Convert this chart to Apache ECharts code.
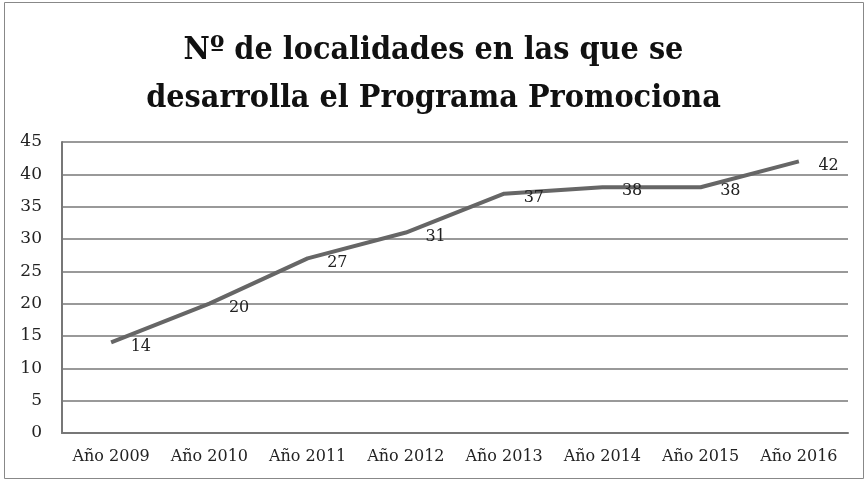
<!DOCTYPE html>
<html><head><meta charset="utf-8">
<script src="https://cdn.jsdelivr.net/npm/echarts@6/dist/echarts.min.js"></script>
<style>html,body{margin:0;padding:0;background:#fff}#c{width:867px;height:480px}</style>
</head><body><div id="c"></div>
<script>
const categories = ['Año 2009','Año 2010','Año 2011','Año 2012','Año 2013','Año 2014','Año 2015','Año 2016'];
const values = [14, 20, 27, 31, 37, 38, 38, 42];
const yTicks = {min: 0, max: 45, interval: 5};
const titleText = 'Nº de localidades en las que se\ndesarrolla el Programa Promociona';

const chart = echarts.init(document.getElementById('c'), null, {renderer: 'canvas'});
const font = 'DejaVu Serif, Liberation Serif, serif';
const tfont = 'DejaVu Serif Condensed, DejaVu Serif, serif';
chart.setOption({
  animation: false,
  backgroundColor: '#fff',
  graphic: [{type: 'rect', shape: {x: 4.5, y: 2.5, width: 859, height: 476}, style: {fill: 'none', stroke: '#888', lineWidth: 1}, silent: true}],
  title: {
    text: titleText, left: 'center', top: 22, padding: [5, 5, 5, 28],
    textStyle: {fontFamily: tfont, fontWeight: 'bold', fontSize: 32, lineHeight: 48, color: '#111'}
  },
  grid: {left: 62, right: 19, top: 142, bottom: 47, containLabel: false},
  xAxis: {
    type: 'category', data: categories, boundaryGap: true,
    axisLine: {lineStyle: {color: '#777', width: 2}},
    axisTick: {show: false},
    axisLabel: {interval: 0, fontFamily: font, fontSize: 16, color: '#222', margin: 16}
  },
  yAxis: {
    type: 'value', min: yTicks.min, max: yTicks.max, interval: yTicks.interval,
    axisLine: {show: true, lineStyle: {color: '#777', width: 2}},
    axisTick: {show: false},
    splitLine: {lineStyle: {color: '#777', width: 1.5}},
    axisLabel: {fontFamily: font, fontSize: 17, color: '#222', margin: 20, align: 'right'}
  },
  series: [{
    type: 'line', data: values, symbol: 'circle', symbolSize: 1, showSymbol: true,
    itemStyle: {color: 'rgba(0,0,0,0)'},
    lineStyle: {color: '#666', width: 4},
    label: {show: true, position: 'right', distance: 19, offset: [0, 4], fontFamily: font, fontSize: 16, color: '#222'}
  }]
});
</script></body></html>
